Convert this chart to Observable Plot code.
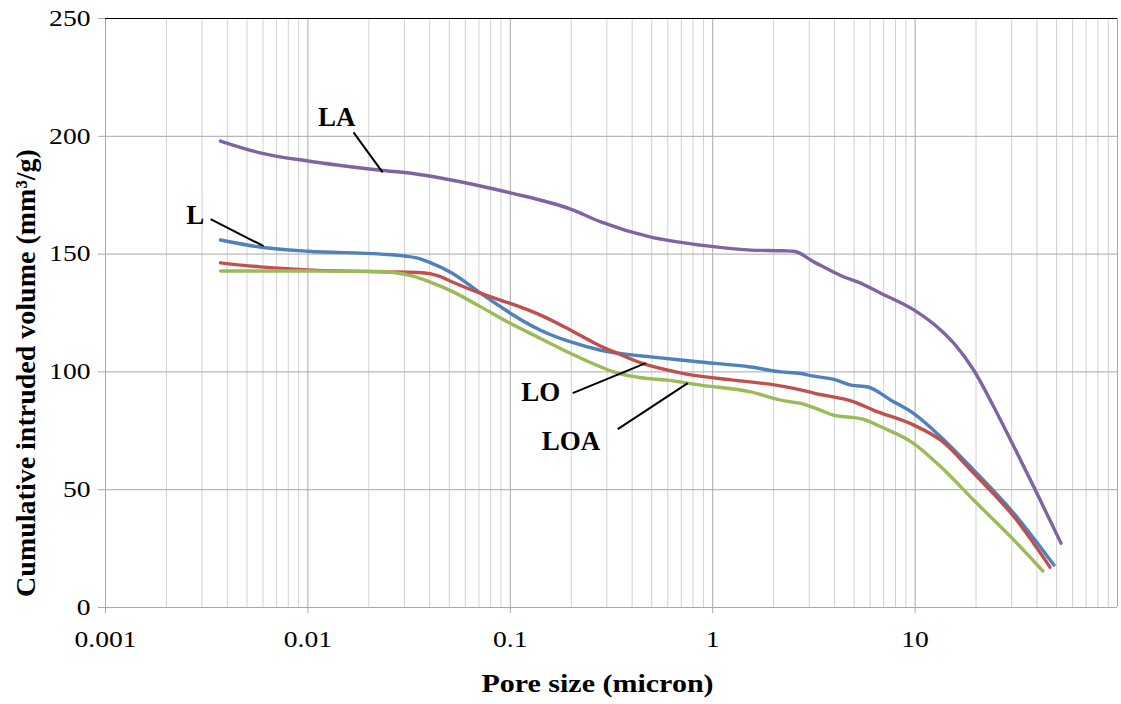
<!DOCTYPE html>
<html>
<head>
<meta charset="utf-8">
<script src="https://cdn.jsdelivr.net/npm/d3@7"></script>
<script src="https://cdn.jsdelivr.net/npm/@observablehq/plot@0.6"></script>
<style>
  html, body { margin: 0; padding: 0; background: #fff; }
  #chart svg { display: block; }
</style>
</head>
<body>
<div id="chart"></div>
<script>
// Mercury intrusion curves: cumulative intruded volume (mm³/g) vs pore size (micron)
const poreLA = [0.0037, 0.0058, 0.01, 0.023, 0.033, 0.072, 0.1, 0.2, 0.28, 0.49, 0.87, 1.54, 2.24, 2.52, 3.16, 4.45, 5.2, 6.8, 9.9, 13.4, 15.6, 19.5, 24.5, 30.8, 38.6, 52.6];
const volLA  = [198, 193, 189.5, 185.6, 184.2, 178.8, 176, 169, 163.7, 157.3, 153.8, 151.7, 151.4, 151.2, 146.7, 140.3, 138.2, 133.3, 126.2, 117.7, 112, 100.7, 85.1, 68.2, 51.2, 27.3];

const poreL = [0.0037, 0.0058, 0.01, 0.023, 0.03, 0.0349, 0.0405, 0.0507, 0.0615, 0.0715, 0.0898, 0.1005, 0.141, 0.199, 0.28, 0.407, 0.494, 0.87, 1.54, 2.17, 2.72, 3.16, 3.97, 4.82, 5.85, 7.59, 9.86, 13.4, 19.5, 30.8, 48.5];
const volL  = [156, 153, 151.2, 150, 149.2, 148.3, 146.3, 142.3, 137.5, 133.3, 127.6, 124.8, 117.7, 112.7, 109.2, 107.1, 106.4, 104.2, 102.1, 100, 99.3, 98.2, 96.8, 94.4, 93.6, 88, 82.3, 72.4, 58.3, 39.9, 18];

const poreLO = [0.0037, 0.0058, 0.01, 0.023, 0.0349, 0.0405, 0.0455, 0.0507, 0.0715, 0.1005, 0.141, 0.199, 0.28, 0.325, 0.442, 0.72, 1.27, 1.87, 2.72, 3.16, 4.98, 6.25, 9.86, 13.4, 19.5, 30.8, 46.4];
const volLO  = [146.3, 144.6, 143.3, 142.5, 142.2, 141.6, 140.3, 138.5, 133.3, 129, 124.1, 117.7, 110.9, 108.5, 103.8, 99.3, 96.5, 94.9, 92.4, 91, 87.3, 83.7, 77.4, 71, 56.9, 38.5, 17.1];

const poreLOA = [0.0037, 0.01, 0.023, 0.0277, 0.0334, 0.0405, 0.0507, 0.0715, 0.1005, 0.141, 0.199, 0.28, 0.325, 0.442, 0.6, 0.87, 1.54, 2.17, 2.72, 3.42, 3.97, 4.98, 5.58, 6.78, 9.86, 13.4, 19.5, 30.8, 42.8];
const volLOA  = [142.8, 142.8, 142.6, 142, 140.5, 138, 134.5, 127.6, 120.5, 114.2, 107.8, 102.1, 100, 97.5, 96.5, 94.4, 91.5, 88, 86.6, 83.7, 81.6, 80.6, 79.8, 76.7, 69.6, 59.7, 45.5, 28.6, 15.5];

const seriesNames  = ["LA", "L", "LO", "LOA"];
const seriesColors = ["#8064A2", "#4F81BD", "#C0504D", "#9BBB59"];

// Axis ticks
const xTickValues = [0.001, 0.01, 0.1, 1, 10];
const xTickLabels = ["0.001", "0.01", "0.1", "1", "10"];
const yTickValues = [0, 50, 100, 150, 200, 250];

// Curve labels with their leader lines
const labelText = ["LA", "L", "LO", "LOA"];
const labelPore = [0.01387, 0.002775, 0.1413, 0.1993];
const labelVol  = [207.9, 166.5, 91.2, 70.6];
const leaderPore1 = [0.0168, 0.003304, 0.2034, 0.3396];
const leaderVol1  = [201.7, 164.8, 91.0, 75.7];
const leaderPore2 = [0.0234, 0.006039, 0.467, 0.753];
const leaderVol2  = [184.7, 153.4, 103.7, 95.2];

const xTitle = "Pore size (micron)";
const yTitle = "Cumulative intruded volume (mm³/g)";

// Build the long table for the line mark
const curves = [[poreLA, volLA], [poreL, volL], [poreLO, volLO], [poreLOA, volLOA]];
const rows = curves.flatMap(([xs, ys], k) =>
  xs.map((x, i) => ({series: seriesNames[k], pore: x, vol: ys[i]})));

const labels = labelText.map((t, i) => ({
  text: t, x: labelPore[i], y: labelVol[i],
  x1: leaderPore1[i], y1: leaderVol1[i], x2: leaderPore2[i], y2: leaderVol2[i]
}));

// Log grid: minor lines at 2..9 within each decade, major lines at the decades
const decades = [0.001, 0.01, 0.1, 1, 10, 100];
const minor = decades.slice(0, -1).flatMap(d => d3.range(2, 10).map(k => d * k));

const serif = "'Liberation Serif', 'Times New Roman', serif";

const chart = Plot.plot({
  width: 1121,
  height: 704,
  marginLeft: 105,
  marginRight: 4,
  marginTop: 18,
  marginBottom: 97,
  style: {fontFamily: serif, background: "#fff", color: "#000"},
  x: {type: "log", domain: [0.001, 100]},
  y: {domain: [0, 250]},
  color: {domain: seriesNames, range: seriesColors},
  marks: [
    Plot.ruleX(minor, {stroke: "#d2d2d2", strokeWidth: 1}),
    Plot.ruleX(decades, {stroke: "#a8a8a8", strokeWidth: 1}),
    Plot.ruleY(yTickValues.slice(0, -1), {stroke: "#a8a8a8", strokeWidth: 1}),
    Plot.ruleY([250], {stroke: "#000", strokeWidth: 1}),
    Plot.axisY({
      ticks: yTickValues, tickSize: 7, tickPadding: 8, label: null,
      fontSize: 23, stroke: "#a8a8a8", fill: "#000"
    }),
    Plot.axisX({
      ticks: xTickValues, tickSize: 6, tickPadding: 17, label: null,
      tickFormat: (d) => xTickLabels[xTickValues.indexOf(d)],
      fontSize: 23, stroke: "#a8a8a8", fill: "#000"
    }),
    Plot.line(rows, {
      x: "pore", y: "vol", z: "series", stroke: "series",
      strokeWidth: 3.4, curve: "monotone-x"
    }),
    Plot.link(labels, {
      x1: "x1", y1: "y1", x2: "x2", y2: "y2",
      stroke: "#000", strokeWidth: 2
    }),
    Plot.text(labels, {
      x: "x", y: "y", text: "text",
      fontSize: 27, fontWeight: "bold", fill: "#000"
    }),
    Plot.text([xTitle], {
      frameAnchor: "bottom", textAnchor: "middle", lineAnchor: "middle",
      dx: -14, dy: 76,
      fontSize: 25, fontWeight: "bold", fill: "#000"
    }),
    Plot.text([yTitle], {
      frameAnchor: "left", textAnchor: "middle", lineAnchor: "middle",
      dx: -79, dy: 60, rotate: -90,
      fontSize: 28, fontWeight: "bold", fill: "#000"
    })
  ]
});

// The tick labels and the x title are set in a slightly wide face:
// stretch each horizontally about its own anchor point.
const wide = new Set([...xTickLabels, ...yTickValues.map(String), xTitle]);
chart.querySelectorAll("text").forEach(t => {
  if (!wide.has(t.textContent)) return;
  const x = +(t.getAttribute("x") || 0);
  const tr = t.getAttribute("transform") || "";
  t.setAttribute("transform", `${tr} translate(${x},0) scale(1.2,1) translate(${-x},0)`);
});

document.getElementById("chart").appendChild(chart);
</script>
</body>
</html>
